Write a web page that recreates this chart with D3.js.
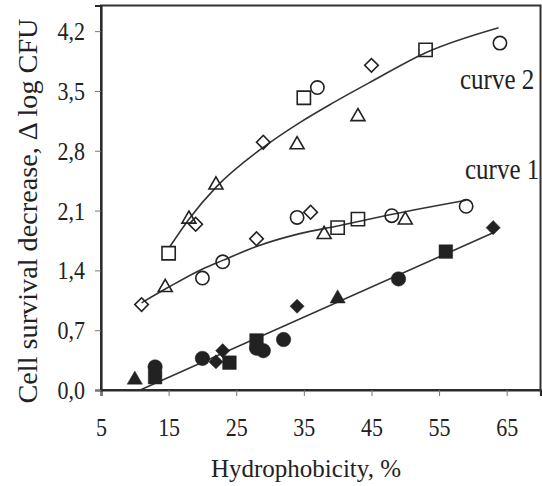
<!DOCTYPE html>
<html>
<head>
<meta charset="utf-8">
<script src="https://cdn.jsdelivr.net/npm/d3@7"></script>
<style>
  body { margin: 0; background: #fff; }
  text { font-family: "Liberation Serif", "Times New Roman", serif; fill: #222; }
</style>
</head>
<body>
<div id="chart"></div>
<script>
// axis ticks
const xTicks = [5, 15, 25, 35, 45, 55, 65];
const yTicks = [0, 0.7, 1.4, 2.1, 2.8, 3.5, 4.2];
const yTickLabels = ["0,0", "0,7", "1,4", "2,1", "2,8", "3,5", "4,2"];

// curve 2 (upper, open markers)
const c2Squares = [[15, 1.6], [35, 3.42], [53, 3.98]];
const c2Circles = [[37, 3.54], [64, 4.06]];
const c2Triangles = [[18, 2.0], [22, 2.4], [34, 2.87], [43, 3.2]];
const c2Diamonds = [[19, 1.94], [29, 2.9], [45, 3.8]];
const c2Fit = [[15.2, 1.68], [18.2, 2.02], [22.1, 2.38], [29, 2.84], [34.4, 3.13], [39.3, 3.36], [45, 3.61], [53.1, 3.95], [63.8, 4.24]];

// curve 1 (middle, open markers)
const c1Diamonds = [[11, 1.0], [28, 1.77], [36, 2.08]];
const c1Triangles = [[14.5, 1.2], [38, 1.82], [50, 1.99]];
const c1Circles = [[20, 1.31], [23, 1.5], [34, 2.02], [48, 2.04], [59, 2.15]];
const c1Squares = [[40, 1.9], [43, 2.0]];
const c1Fit = [[11, 1.02], [14.7, 1.19], [20.1, 1.42], [23.1, 1.52], [28, 1.68], [34.4, 1.83], [40, 1.92], [47.7, 2.05], [59, 2.22]];

// lower line (filled markers)
const c0Triangles = [[10, 0.12], [40, 1.07]];
const c0Circles = [[13, 0.27], [20, 0.37], [28, 0.49], [29, 0.46], [32, 0.59], [49, 1.3]];
const c0Squares = [[13, 0.15], [24, 0.32], [28, 0.58], [56, 1.62]];
const c0Diamonds = [[22, 0.33], [23, 0.46], [34, 0.98], [63, 1.9]];
const c0Fit = [[10.8, 0], [63, 1.84]];

const width = 542, height = 486;
const ink = "#222";
const stretch = 1.14; // the picture's text is a little taller than wide

const svg = d3.select("#chart").append("svg")
    .attr("width", width)
    .attr("height", height);

const x = d3.scaleLinear().domain([5, 70]).range([101, 540.5]);
const y = d3.scaleLinear().domain([0, 4.5]).range([390, 5.5]);

// frame
svg.append("rect")
    .attr("x", x(5)).attr("y", y(4.5))
    .attr("width", x(70) - x(5)).attr("height", y(0) - y(4.5))
    .attr("fill", "none").attr("stroke", "#333").attr("stroke-width", 2);

// axes
const xAxis = svg.append("g")
    .attr("transform", `translate(0,${y(0)})`)
    .call(d3.axisBottom(x).tickValues(xTicks).tickSize(6).tickFormat(d => d));
const yAxis = svg.append("g")
    .attr("transform", `translate(${x(5)},0)`)
    .call(d3.axisLeft(y).tickValues(yTicks).tickSize(6)
        .tickFormat((d, i) => yTickLabels[i]));

[xAxis, yAxis].forEach(g => {
  g.select(".domain").attr("stroke", "#2a2a2a").attr("stroke-width", 2.2);
  g.selectAll(".tick line").attr("stroke", "#777");
  g.selectAll(".tick text").attr("fill", ink)
      .style("font-family", "Liberation Serif").style("font-size", "22px");
});
xAxis.selectAll(".tick text")
    .attr("y", 0).attr("dy", 0)
    .attr("transform", `translate(0,46) scale(1,${stretch})`);
yAxis.selectAll(".tick text")
    .attr("x", 0).attr("dy", "0.34em")
    .attr("transform", `translate(-16,0) scale(1,${stretch})`);

// fitted lines
const line = d3.line().x(d => x(d[0])).y(d => y(d[1]));
const smooth = d3.line().x(d => x(d[0])).y(d => y(d[1])).curve(d3.curveMonotoneX);
svg.append("path").datum(c2Fit).attr("d", smooth)
    .attr("fill", "none").attr("stroke", "#333").attr("stroke-width", 1.6);
svg.append("path").datum(c1Fit).attr("d", smooth)
    .attr("fill", "none").attr("stroke", "#333").attr("stroke-width", 1.6);
svg.append("path").datum(c0Fit).attr("d", line)
    .attr("fill", "none").attr("stroke", "#333").attr("stroke-width", 1.6);

// markers
const drawMarkers = (data, type, size, filled, rotate) => {
  svg.append("g").selectAll("path")
      .data(data)
      .join("path")
      .attr("d", d3.symbol().type(type).size(size))
      .attr("transform", d => `translate(${x(d[0])},${y(d[1])})` + (rotate ? " rotate(45)" : ""))
      .attr("fill", filled ? ink : "none")
      .attr("stroke", ink)
      .attr("stroke-width", filled ? 0.5 : 1.6);
};

drawMarkers(c2Squares, d3.symbolSquare, 175, false);
drawMarkers(c2Circles, d3.symbolCircle, 140, false);
drawMarkers(c2Triangles, d3.symbolTriangle, 85, false);
drawMarkers(c2Diamonds, d3.symbolSquare, 92, false, true);

drawMarkers(c1Squares, d3.symbolSquare, 175, false);
drawMarkers(c1Circles, d3.symbolCircle, 140, false);
drawMarkers(c1Triangles, d3.symbolTriangle, 85, false);
drawMarkers(c1Diamonds, d3.symbolSquare, 92, false, true);

drawMarkers(c0Squares, d3.symbolSquare, 185, true);
drawMarkers(c0Circles, d3.symbolCircle, 165, true);
drawMarkers(c0Triangles, d3.symbolTriangle, 100, true);
drawMarkers(c0Diamonds, d3.symbolSquare, 100, true, true);

// curve labels
svg.append("text").attr("transform", `translate(460,89) scale(1,${stretch})`)
    .style("font-size", "25px").text("curve 2");
svg.append("text").attr("transform", `translate(465,179) scale(1,${stretch})`)
    .style("font-size", "25px").text("curve 1");

// axis titles
svg.append("text")
    .attr("x", 306).attr("y", 477)
    .attr("text-anchor", "middle")
    .style("font-size", "25px")
    .text("Hydrophobicity, %");

svg.append("text")
    .attr("transform", "translate(37,211) rotate(-90)")
    .attr("text-anchor", "middle")
    .attr("textLength", 385).attr("lengthAdjust", "spacingAndGlyphs")
    .style("font-size", "28px")
    .text("Cell survival decrease, \u0394 log CFU");
</script>
</body>
</html>
